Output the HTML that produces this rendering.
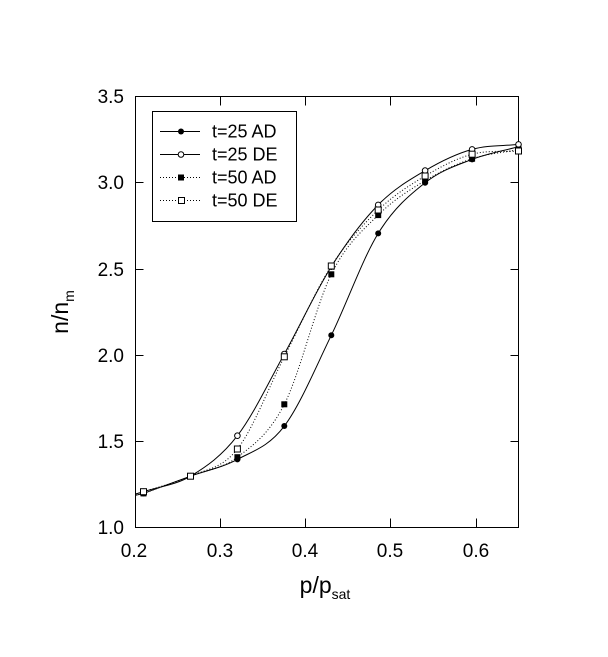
<!DOCTYPE html>
<html>
<head>
<meta charset="utf-8">
<style>
html,body{margin:0;padding:0;background:#fff;}
svg{display:block;}
text{font-family:"Liberation Sans",Arial,sans-serif;fill:#000;}
</style>
</head>
<body>
<svg width="608" height="657" viewBox="0 0 608 657" xmlns="http://www.w3.org/2000/svg">
<rect x="0" y="0" width="608" height="657" fill="#fff"/>

<!-- frame -->
<rect x="135.5" y="96.5" width="383" height="431" fill="none" stroke="#000" stroke-width="1"/>

<!-- ticks -->
<g stroke="#000" stroke-width="1">
  <!-- bottom -->
  <line x1="220.5" y1="527.5" x2="220.5" y2="518.5"/>
  <line x1="305.5" y1="527.5" x2="305.5" y2="518.5"/>
  <line x1="390.5" y1="527.5" x2="390.5" y2="518.5"/>
  <line x1="476.5" y1="527.5" x2="476.5" y2="518.5"/>
  <!-- top -->
  <line x1="220.5" y1="96.5" x2="220.5" y2="105.5"/>
  <line x1="305.5" y1="96.5" x2="305.5" y2="105.5"/>
  <line x1="390.5" y1="96.5" x2="390.5" y2="105.5"/>
  <line x1="476.5" y1="96.5" x2="476.5" y2="105.5"/>
  <!-- left -->
  <line x1="135.5" y1="441.5" x2="143.5" y2="441.5"/>
  <line x1="135.5" y1="355.5" x2="143.5" y2="355.5"/>
  <line x1="135.5" y1="269.5" x2="143.5" y2="269.5"/>
  <line x1="135.5" y1="182.5" x2="143.5" y2="182.5"/>
  <!-- right -->
  <line x1="518.5" y1="441.5" x2="510.5" y2="441.5"/>
  <line x1="518.5" y1="355.5" x2="510.5" y2="355.5"/>
  <line x1="518.5" y1="269.5" x2="510.5" y2="269.5"/>
  <line x1="518.5" y1="182.5" x2="510.5" y2="182.5"/>
</g>

<!-- tick labels -->
<g font-size="19" text-anchor="middle">
  <text x="134" y="557">0.2</text>
  <text x="220" y="557">0.3</text>
  <text x="305" y="557">0.4</text>
  <text x="390" y="557">0.5</text>
  <text x="476" y="557">0.6</text>
</g>
<g font-size="19" text-anchor="end">
  <text x="124" y="534">1.0</text>
  <text x="124" y="448">1.5</text>
  <text x="124" y="362">2.0</text>
  <text x="124" y="276">2.5</text>
  <text x="124" y="189">3.0</text>
  <text x="124" y="103">3.5</text>
</g>

<!-- axis titles -->
<text x="325" y="593" font-size="23" text-anchor="middle">p/p<tspan font-size="14" dy="6">sat</tspan></text>
<text transform="translate(68,312) rotate(-90)" font-size="23" text-anchor="middle">n/n<tspan font-size="14" dy="6">m</tspan></text>

<!-- curves -->
<g fill="none" stroke="#000" stroke-width="1">
  <path d="M135.5,495.3 L143.53,493.44 C159.17,487.68 174.83,481.83 190.47,476.16 C206.11,470.49 221.76,467.75 237.40,459.40 C253.04,451.05 268.69,446.73 284.33,426.05 C299.97,405.37 315.63,367.44 331.27,335.33 C346.91,303.22 362.56,258.81 378.20,233.38 C393.84,207.95 409.49,195.08 425.13,182.75 C440.77,170.42 456.43,165.44 472.07,159.42 C487.71,153.40 503.36,150.89 518.5,146.63"/>
  <path d="M135.5,494 L143.53,491.71 C159.17,486.53 174.83,485.49 190.47,476.16 C206.11,466.83 221.76,456.08 237.40,435.72 C253.04,415.36 268.69,382.16 284.33,353.99 C299.97,325.82 315.63,291.59 331.27,266.73 C346.91,241.87 362.56,220.87 378.20,204.86 C393.84,188.85 409.49,179.89 425.13,170.65 C440.77,161.41 456.43,153.78 472.07,149.40 C487.71,145.02 503.36,146.05 518.5,144.38"/>
  <path stroke-dasharray="1 2" d="M135.5,495.3 L143.53,493.44 C159.17,487.68 174.83,482.21 190.47,476.16 C206.11,470.11 221.76,469.13 237.40,457.15 C253.04,445.17 268.69,434.75 284.33,404.28 C299.97,373.81 315.63,305.87 331.27,274.33 C346.91,242.79 362.56,230.67 378.20,215.06 C393.84,199.45 409.49,190.06 425.13,180.67 C440.77,171.28 456.43,163.91 472.07,158.73 C487.71,153.55 503.36,152.62 518.5,149.57"/>
  <path stroke-dasharray="1 2" d="M135.5,494 L143.53,491.71 C159.17,486.53 174.83,483.27 190.47,476.16 C206.11,469.05 221.76,468.93 237.40,449.03 C253.04,429.13 268.69,387.26 284.33,356.76 C299.97,326.26 315.63,290.49 331.27,266.04 C346.91,241.59 362.56,225.06 378.20,210.05 C393.84,195.04 409.49,185.31 425.13,176.01 C440.77,166.71 456.43,158.41 472.07,154.23 C487.71,150.05 503.36,152.04 518.5,150.95"/>
</g>

<!-- markers: t=25 AD filled circles -->
<g fill="#000">
  <circle cx="143.5" cy="493.4" r="3"/>
  <circle cx="190.5" cy="476.2" r="3"/>
  <circle cx="237.4" cy="459.4" r="3"/>
  <circle cx="284.3" cy="426.0" r="3"/>
  <circle cx="331.3" cy="335.3" r="3"/>
  <circle cx="378.2" cy="233.4" r="3"/>
  <circle cx="425.1" cy="182.7" r="3"/>
  <circle cx="472.1" cy="159.4" r="3"/>
  <circle cx="518.5" cy="146.6" r="3"/>
</g>
<!-- t=25 DE open circles -->
<g fill="#fff" stroke="#000" stroke-width="1">
  <circle cx="143.5" cy="491.7" r="2.8"/>
  <circle cx="190.5" cy="476.2" r="2.8"/>
  <circle cx="237.4" cy="435.7" r="2.8"/>
  <circle cx="284.3" cy="354.0" r="2.8"/>
  <circle cx="331.3" cy="266.7" r="2.8"/>
  <circle cx="378.2" cy="204.9" r="2.8"/>
  <circle cx="425.1" cy="170.6" r="2.8"/>
  <circle cx="472.1" cy="149.4" r="2.8"/>
  <circle cx="518.5" cy="144.4" r="2.8"/>
</g>
<!-- t=50 AD filled squares -->
<g fill="#000">
  <rect x="140.5" y="490.4" width="6" height="6"/>
  <rect x="187.5" y="473.2" width="6" height="6"/>
  <rect x="234.4" y="454.2" width="6" height="6"/>
  <rect x="281.3" y="401.3" width="6" height="6"/>
  <rect x="328.3" y="271.3" width="6" height="6"/>
  <rect x="375.2" y="212.1" width="6" height="6"/>
  <rect x="422.1" y="177.7" width="6" height="6"/>
  <rect x="469.1" y="155.7" width="6" height="6"/>
  <rect x="515.5" y="146.6" width="6" height="6"/>
</g>
<!-- t=50 DE open squares -->
<g fill="#fff" stroke="#000" stroke-width="1">
  <rect x="140.5" y="488.7" width="6" height="6"/>
  <rect x="187.5" y="473.2" width="6" height="6"/>
  <rect x="234.4" y="446.0" width="6" height="6"/>
  <rect x="281.3" y="353.8" width="6" height="6"/>
  <rect x="328.3" y="263.0" width="6" height="6"/>
  <rect x="375.2" y="207.0" width="6" height="6"/>
  <rect x="422.1" y="173.0" width="6" height="6"/>
  <rect x="469.1" y="151.2" width="6" height="6"/>
  <rect x="515.5" y="148.0" width="6" height="6"/>
</g>

<!-- legend -->
<rect x="152.5" y="111.5" width="144" height="110" fill="#fff" stroke="#000" stroke-width="1"/>
<g stroke="#000" stroke-width="1" fill="none">
  <line x1="160" y1="131.5" x2="200" y2="131.5"/>
  <line x1="160" y1="154.5" x2="200" y2="154.5"/>
  <line x1="160" y1="177.5" x2="200" y2="177.5" stroke-dasharray="1 2"/>
  <line x1="160" y1="200.5" x2="200" y2="200.5" stroke-dasharray="1 2"/>
</g>
<circle cx="181" cy="131.5" r="3" fill="#000"/>
<circle cx="181" cy="154.5" r="2.8" fill="#fff" stroke="#000" stroke-width="1"/>
<rect x="178" y="174.5" width="6" height="6" fill="#000"/>
<rect x="178.5" y="197.5" width="6" height="6" fill="#fff" stroke="#000" stroke-width="1"/>
<g font-size="18">
  <text x="212" y="137.5">t=25 AD</text>
  <text x="212" y="160.5">t=25 DE</text>
  <text x="212" y="183.5">t=50 AD</text>
  <text x="212" y="206.5">t=50 DE</text>
</g>
</svg>
</body>
</html>
